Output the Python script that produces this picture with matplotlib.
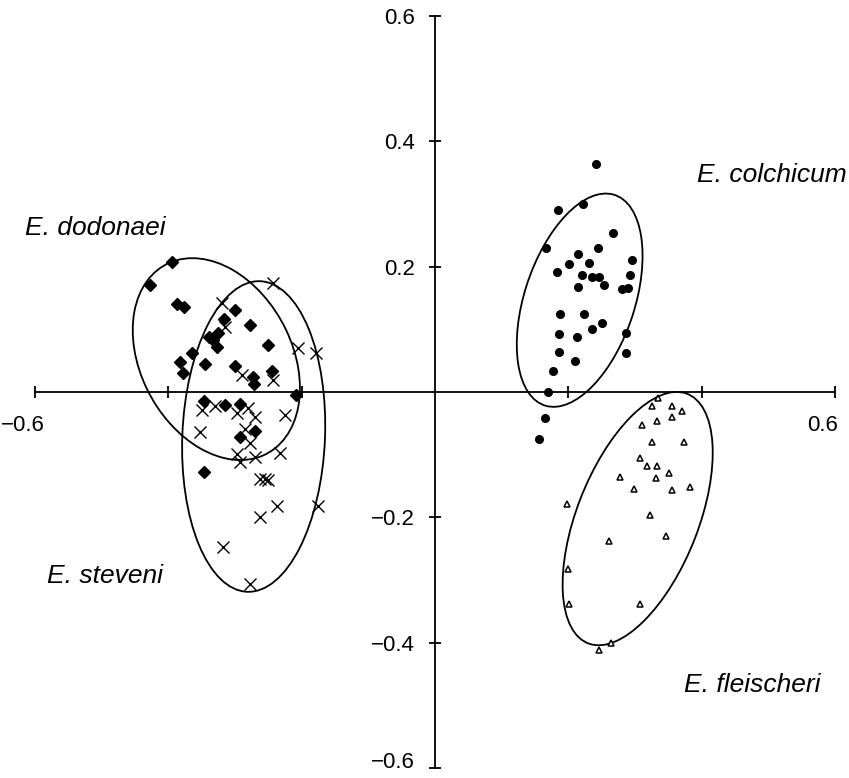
import numpy as np
import matplotlib
matplotlib.use('Agg')
import matplotlib.pyplot as plt
import matplotlib.transforms as mtransforms
from matplotlib.patches import Ellipse

plt.rcParams['font.family'] = ['Liberation Sans', 'DejaVu Sans']

# Points (axe 1, axe 2)
dodonaei_x = [-0.395, -0.428, -0.387, -0.377, -0.300, -0.317, -0.278, -0.325, -0.333, -0.327,
              -0.339, -0.250, -0.365, -0.382, -0.378, -0.345, -0.300, -0.273, -0.271, -0.245,
              -0.209, -0.347, -0.315, -0.292, -0.292, -0.270, -0.347]
dodonaei_y = [0.207, 0.170, 0.141, 0.136, 0.131, 0.117, 0.107, 0.094, 0.083, 0.072,
              0.088, 0.075, 0.062, 0.048, 0.030, 0.045, 0.041, 0.024, 0.013, 0.034,
              -0.005, -0.015, -0.021, -0.019, -0.072, -0.063, -0.127]

steveni_x = [-0.243, -0.320, -0.315, -0.205, -0.178, -0.290, -0.243, -0.350, -0.330, -0.297,
             -0.280, -0.270, -0.225, -0.352, -0.285, -0.277, -0.297, -0.293, -0.270, -0.232,
             -0.263, -0.255, -0.250, -0.237, -0.175, -0.263, -0.318, -0.278]
steveni_y = [0.174, 0.142, 0.104, 0.070, 0.062, 0.027, 0.019, -0.029, -0.022, -0.034,
             -0.026, -0.040, -0.037, -0.064, -0.059, -0.082, -0.099, -0.111, -0.104, -0.097,
             -0.139, -0.139, -0.141, -0.182, -0.182, -0.200, -0.248, -0.307]

colchicum_x = [0.241, 0.185, 0.222, 0.267, 0.167, 0.245, 0.215, 0.201, 0.231, 0.295,
               0.183, 0.220, 0.235, 0.246, 0.254, 0.292, 0.215, 0.281, 0.290, 0.187,
               0.223, 0.250, 0.236, 0.186, 0.213, 0.286, 0.186, 0.286, 0.210, 0.177,
               0.170, 0.165, 0.156]
colchicum_y = [0.364, 0.290, 0.300, 0.254, 0.230, 0.230, 0.221, 0.205, 0.206, 0.210,
               0.191, 0.187, 0.183, 0.183, 0.171, 0.187, 0.168, 0.164, 0.166, 0.125,
               0.125, 0.110, 0.101, 0.093, 0.088, 0.094, 0.064, 0.063, 0.049, 0.034,
               0.000, -0.041, -0.075]

fleischeri_x = [0.335, 0.325, 0.356, 0.370, 0.333, 0.356, 0.311, 0.325, 0.373, 0.307,
                0.318, 0.333, 0.351, 0.277, 0.332, 0.298, 0.356, 0.382, 0.198, 0.322,
                0.346, 0.261, 0.200, 0.201, 0.308, 0.264, 0.246]
fleischeri_y = [-0.010, -0.022, -0.022, -0.030, -0.046, -0.040, -0.053, -0.080, -0.079, -0.105,
                -0.118, -0.118, -0.129, -0.136, -0.137, -0.155, -0.156, -0.152, -0.178, -0.197,
                -0.230, -0.237, -0.283, -0.338, -0.338, -0.400, -0.412]

# Ellipses : centre x, centre y, largeur, hauteur, angle
ellipses = [
    (-0.328, 0.0525, 0.338, 0.229, -65.7),   # dodonaei
    (-0.272, -0.071, 0.496, 0.214, 87.8),    # steveni
    (0.217, 0.1465, 0.352, 0.166, 73.2),     # colchicum
    (0.304, -0.202, 0.425, 0.183, 70.0),     # fleischeri
]

noms = ['E. dodonaei', 'E. colchicum', 'E. steveni', 'E. fleischeri']
noms_x = [-0.615, 0.393, -0.582, 0.373]
noms_y = [0.261, 0.346, -0.293, -0.468]

fig = plt.figure(figsize=(8.49, 7.78), dpi=100)
ax = fig.add_axes([35 / 849, 10 / 778, 800 / 849, 752 / 778])
ax.set_xlim(-0.6, 0.6)
ax.set_ylim(-0.6, 0.6)

# Axes en croix
ax.spines['left'].set_position('zero')
ax.spines['bottom'].set_position('zero')
ax.spines['right'].set_visible(False)
ax.spines['top'].set_visible(False)
ax.spines['left'].set_linewidth(1.3)
ax.spines['bottom'].set_linewidth(1.3)

ax.set_xticks([-0.6, -0.4, -0.2, 0.2, 0.4, 0.6])
ax.set_xticklabels(['\u22120.6', '', '', '', '', '0.6'])
ax.set_yticks([-0.6, -0.4, -0.2, 0.2, 0.4, 0.6])
ax.set_yticklabels(['\u22120.6', '\u22120.4', '\u22120.2', '0.2', '0.4', '0.6'])
ax.tick_params(axis='both', direction='inout', length=9, width=1.3, labelsize=16)
ax.tick_params(axis='x', pad=12)
ax.tick_params(axis='y', pad=10)

# petits décalages des étiquettes comme sur l'original
decal_x = mtransforms.ScaledTranslation(-0.12, 0, fig.dpi_scale_trans)
for lbl in ax.get_xticklabels():
    lbl.set_transform(lbl.get_transform() + decal_x)
decal_y = mtransforms.ScaledTranslation(0, 0.08, fig.dpi_scale_trans)
ax.get_yticklabels()[0].set_transform(ax.get_yticklabels()[0].get_transform() + decal_y)

for (cx, cy, w, h, ang) in ellipses:
    ax.add_patch(Ellipse((cx, cy), w, h, angle=ang, fill=False, edgecolor='black', linewidth=1.3))

ax.plot(dodonaei_x, dodonaei_y, 'D', color='black', markersize=6.5, linestyle='none')
ax.plot(steveni_x, steveni_y, 'x', color='black', markersize=8, markeredgewidth=1.0, linestyle='none')
ax.plot(colchicum_x, colchicum_y, 'o', color='black', markersize=5.5, linestyle='none')
ax.plot(fleischeri_x, fleischeri_y, '^', markerfacecolor='white', markeredgecolor='black',
        markersize=5, markeredgewidth=1.1, linestyle='none')

for nom, tx, ty in zip(noms, noms_x, noms_y):
    ax.text(tx, ty, nom, fontsize=19, style='italic', ha='left', va='center', clip_on=False)

fig.savefig('out.png', dpi=100)
